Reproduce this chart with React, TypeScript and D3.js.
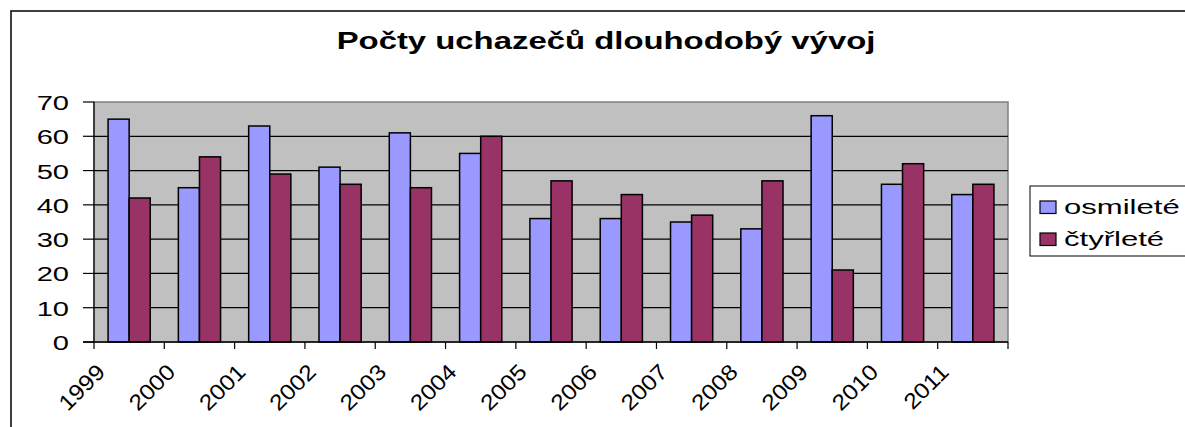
import React from 'react';
import * as d3 from 'd3';

const title = 'Počty uchazečů dlouhodobý vývoj';
const years = ['1999', '2000', '2001', '2002', '2003', '2004', '2005', '2006', '2007', '2008', '2009', '2010', '2011'];
const seriesNames = ['osmileté', 'čtyřleté'];
const osmilete = [65, 45, 63, 51, 61, 55, 36, 36, 35, 33, 66, 46, 43];
const ctyrlete = [42, 54, 49, 46, 45, 60, 47, 43, 37, 47, 21, 52, 46];
const yTicks = [0, 10, 20, 30, 40, 50, 60, 70];

const colors = ['#9999FF', '#993366'];
const FONT = '"Liberation Sans", Arial, sans-serif';

export default function App() {
  const W = 1185;
  const H = 427;
  const plot = { left: 94, right: 1008, top: 102, bottom: 342 };

  const x = d3.scaleBand<string>().domain(years).range([plot.left, plot.right]).paddingInner(0).paddingOuter(0);
  const x1 = d3.scaleBand<string>().domain(seriesNames).range([0, x.bandwidth()]).paddingInner(0).paddingOuter(2 / 3);
  const y = d3.scaleLinear().domain([0, 70]).range([plot.bottom, plot.top]);

  const series = [osmilete, ctyrlete];
  const tickXs = [...years.map((d) => x(d) as number), plot.right];

  return (
    <svg
      width={W}
      height={H}
      style={{ position: 'absolute', left: 0, top: 0, background: '#fff' }}
      fontFamily={FONT}
    >
      <rect x={0} y={0} width={W} height={H} fill="#fff" />
      {/* outer chart border */}
      <rect x={11} y={11} width={1400} height={600} fill="none" stroke="#000" strokeWidth={1.5} />

      {/* title */}
      <text
        transform={`translate(606,49) scale(1.43,1)`}
        textAnchor="middle"
        fontSize={23}
        fontWeight="bold"
        fill="#000"
      >
        {title}
      </text>

      {/* plot area */}
      <rect
        x={plot.left}
        y={plot.top}
        width={plot.right - plot.left}
        height={plot.bottom - plot.top}
        fill="#C0C0C0"
        stroke="#808080"
        strokeWidth={1.5}
      />

      {/* gridlines */}
      {yTicks.filter((t) => t > 0 && t < 70).map((t) => (
        <line key={'g' + t} x1={plot.left} x2={plot.right} y1={y(t)} y2={y(t)} stroke="#000" strokeWidth={1.2} />
      ))}

      {/* bars */}
      {series.map((vals, si) =>
        vals.map((v, i) => (
          <rect
            key={`b${si}-${i}`}
            x={(x(years[i]) as number) + (x1(seriesNames[si]) as number)}
            y={y(v)}
            width={x1.bandwidth()}
            height={y(0) - y(v)}
            fill={colors[si]}
            stroke="#000"
            strokeWidth={1.5}
          />
        ))
      )}

      {/* y axis */}
      <line x1={plot.left} x2={plot.left} y1={plot.top} y2={plot.bottom} stroke="#000" strokeWidth={1.2} />
      {yTicks.map((t) => (
        <g key={'yt' + t}>
          <line x1={plot.left - 11} x2={plot.left} y1={y(t)} y2={y(t)} stroke="#000" strokeWidth={1.2} />
          <text transform={`translate(69,${y(t) + 8}) scale(1.42,1)`} textAnchor="end" fontSize={20.5} fill="#000">
            {t}
          </text>
        </g>
      ))}

      {/* x axis */}
      <line x1={plot.left - 11} x2={plot.right} y1={plot.bottom} y2={plot.bottom} stroke="#000" strokeWidth={1.5} />
      {tickXs.map((tx, i) => (
        <line key={'xt' + i} x1={tx} x2={tx} y1={plot.bottom} y2={plot.bottom + 7} stroke="#000" strokeWidth={1.2} />
      ))}
      {years.map((yr) => (
        <text
          key={'xl' + yr}
          transform={`translate(${(x(yr) as number) + 12.4},373.3) rotate(-45) scale(1.12,1)`}
          textAnchor="end"
          fontSize={22}
          fill="#000"
        >
          {yr}
        </text>
      ))}

      {/* legend */}
      <rect x={1030} y={186} width={300} height={70} fill="#fff" stroke="#000" strokeWidth={1} />
      {seriesNames.map((name, i) => (
        <g key={'lg' + i}>
          <rect x={1040} y={201 + i * 32} width={16} height={12.5} fill={colors[i]} stroke="#000" strokeWidth={1.2} />
          <text transform={`translate(1064,${214 + i * 32}) scale(1.48,1)`} fontSize={21} fill="#000">
            {name}
          </text>
        </g>
      ))}
    </svg>
  );
}
